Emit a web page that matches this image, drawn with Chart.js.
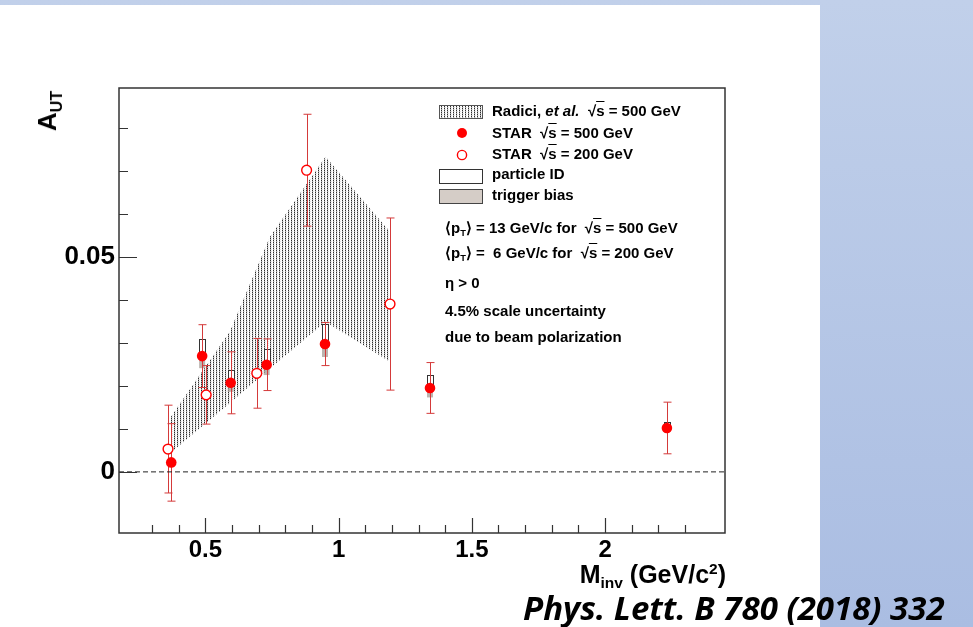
<!DOCTYPE html>
<html>
<head>
<meta charset="utf-8">
<script src="https://cdn.jsdelivr.net/npm/chart.js"></script>
<style>
  html, body { margin: 0; padding: 0; }
  body {
    width: 973px; height: 627px; position: relative; overflow: hidden;
    background: linear-gradient(#c1d0ea, #aabde2);
    font-family: "Liberation Sans", Arial, sans-serif;
  }
  #sheet { position: absolute; left: 0; top: 5px; width: 820px; height: 622px; background: #fff; }
  #c { position: absolute; left: 0; top: 0; }
  .t { position: absolute; white-space: nowrap; line-height: 1; font-weight: bold; color: #000; }
  .leg { font-size: 15px; }
  .t sub, .t sup { line-height: 0; font-size: 0.62em; }
  .t sub { vertical-align: -0.35em; }
  .t sup { vertical-align: 0.55em; }
  .ol { text-decoration: overline; }
  #ytitle { font-size: 26px; left: 47px; top: 111px; transform: translate(-50%, -50%) rotate(-90deg); }
  #xtitle { font-size: 25px; right: 247px; top: 562px; }
  #cite { font-family: "Open Sans", sans-serif; font-style: italic; font-size: 33px; left: 523px; top: 591px; }
</style>
</head>
<body>
<div id="sheet"></div>
<canvas id="c" width="973" height="627"></canvas>

<div class="t" id="ytitle">A<sub>UT</sub></div>
<div class="t" id="xtitle">M<sub>inv</sub> (GeV/c<sup>2</sup>)</div>
<div class="t" id="cite">Phys. Lett. B 780 (2018) 332</div>

<div class="t leg" style="left:492px; top:103px">Radici, <i>et al.</i> &nbsp;√<span class="ol">s</span> = 500 GeV</div>
<div class="t leg" style="left:492px; top:125px">STAR &nbsp;√<span class="ol">s</span> = 500 GeV</div>
<div class="t leg" style="left:492px; top:146px">STAR &nbsp;√<span class="ol">s</span> = 200 GeV</div>
<div class="t leg" style="left:492px; top:166px">particle ID</div>
<div class="t leg" style="left:492px; top:187px">trigger bias</div>
<div class="t leg" style="left:445px; top:220px">⟨p<sub>T</sub>⟩ = 13 GeV/c for &nbsp;√<span class="ol">s</span> = 500 GeV</div>
<div class="t leg" style="left:445px; top:245px">⟨p<sub>T</sub>⟩ = &nbsp;6 GeV/c for &nbsp;√<span class="ol">s</span> = 200 GeV</div>
<div class="t leg" style="left:445px; top:275px">η &gt; 0</div>
<div class="t leg" style="left:445px; top:303px">4.5% scale uncertainty</div>
<div class="t leg" style="left:445px; top:329px">due to beam polarization</div>

<script>
// STAR sqrt(s) = 500 GeV (filled)
const x500 = [0.372, 0.488, 0.595, 0.730, 0.949, 1.343, 2.232];
const y500 = [0.0022, 0.0269, 0.0207, 0.0249, 0.0297, 0.0195, 0.0102];
const e500 = [0.0090, 0.0073, 0.0072, 0.0060, 0.0050, 0.0059, 0.0060];
const pid500 = [0, 0.0039, 0.0029, 0.0036, 0.0046, 0.0030, 0.0014];   // particle ID syst (up)
const trig500 = [0, 0.0028, 0.0021, 0.0024, 0.0030, 0.0022, 0.0010];  // trigger bias syst (down)

// STAR sqrt(s) = 200 GeV (open)
const x200 = [0.360, 0.503, 0.693, 0.880, 1.193];
const y200 = [0.0053, 0.0179, 0.0229, 0.0701, 0.0390];
const e200 = [0.0102, 0.0068, 0.0081, 0.0130, 0.0200];

// Radici et al. band
const bandX = [0.367, 0.592, 0.742, 0.951, 1.193];
const bandHi = [0.0125, 0.0326, 0.0546, 0.0732, 0.0558];
const bandLo = [0.0043, 0.0160, 0.0240, 0.0349, 0.0256];

const xRange = [0.176, 2.45];
const yRange = [-0.0142, 0.0892];

const RED = '#ff0000';
const BAR_RED = 'rgb(212,58,58)';

const canvas = document.getElementById('c');
const ctx = canvas.getContext('2d');

// dotted fill like the ROOT stipple
const pc = document.createElement('canvas');
pc.width = 3; pc.height = 2;
const pctx = pc.getContext('2d');
pctx.fillStyle = '#2e2e2e';
pctx.fillRect(0, 0, 1, 1);
pctx.fillStyle = '#a8a8a8';
pctx.fillRect(0, 1, 1, 1);
pctx.fillStyle = '#e2e2e2';
pctx.fillRect(1, 1, 1, 1);
const stipple = ctx.createPattern(pc, 'repeat');

const pts = (xs, ys) => xs.map((v, i) => ({ x: v, y: ys[i] }));

function drawErrors(c, sx, sy, xs, ys, es) {
  c.strokeStyle = BAR_RED;
  c.lineWidth = 1;
  xs.forEach((v, i) => {
    const px = Math.round(sx.getPixelForValue(v)) + 0.5;
    const t = sy.getPixelForValue(ys[i] + es[i]);
    const b = sy.getPixelForValue(ys[i] - es[i]);
    c.beginPath();
    c.moveTo(px, t); c.lineTo(px, b);
    c.moveTo(px - 4, t); c.lineTo(px + 4, t);
    c.moveTo(px - 4, b); c.lineTo(px + 4, b);
    c.stroke();
  });
}

const rootStyle = {
  id: 'rootStyle',
  beforeDatasetDraw(chart, args) {
    if (args.index !== 2) return;
    const c = chart.ctx;
    const { x, y } = chart.scales;
    c.save();
    x500.forEach((v, i) => {
      const px = x.getPixelForValue(v);
      const py = y.getPixelForValue(y500[i]);
      if (trig500[i] > 0) {
        const b = y.getPixelForValue(y500[i] - trig500[i]);
        c.fillStyle = 'rgba(165,155,148,0.75)';
        c.fillRect(px - 3, py, 6, b - py);
      }
      if (pid500[i] > 0) {
        const t = y.getPixelForValue(y500[i] + pid500[i]);
        c.fillStyle = '#fff';
        c.fillRect(px - 3, t, 6, py - t);
        c.strokeStyle = '#333';
        c.lineWidth = 1;
        c.strokeRect(Math.round(px - 3) + 0.5, Math.round(t) + 0.5, 6, Math.round(py - t));
      }
    });
    drawErrors(c, x, y, x200, y200, e200);
    drawErrors(c, x, y, x500, y500, e500);
    c.restore();
  },
  afterDraw(chart) {
    const c = chart.ctx;
    const { x, y } = chart.scales;
    const a = chart.chartArea;
    c.save();
    c.strokeStyle = '#333';
    c.lineWidth = 1.5;
    c.strokeRect(a.left, a.top, a.right - a.left, a.bottom - a.top);
    c.lineWidth = 1.2;
    c.beginPath();
    x.ticks.forEach(t => {
      const v = t.value;
      if (Math.abs(v * 10 - Math.round(v * 10)) > 1e-6) return;
      const major = Math.abs(v * 2 - Math.round(v * 2)) < 1e-6;
      const px = Math.round(x.getPixelForValue(v)) + 0.5;
      c.moveTo(px, a.bottom);
      c.lineTo(px, a.bottom - (major ? 15 : 8));
    });
    y.ticks.forEach(t => {
      const v = t.value;
      if (Math.abs(v * 100 - Math.round(v * 100)) > 1e-6) return;
      const major = Math.abs(v * 20 - Math.round(v * 20)) < 1e-6;
      const py = Math.round(y.getPixelForValue(v)) + 0.5;
      c.moveTo(a.left, py);
      c.lineTo(a.left + (major ? 18 : 9), py);
    });
    c.stroke();

    // legend symbols
    c.fillStyle = stipple;
    c.fillRect(439, 105, 43, 13);
    c.strokeStyle = '#555';
    c.lineWidth = 1;
    c.strokeRect(439.5, 105.5, 43, 13);
    c.fillStyle = RED;
    c.beginPath(); c.arc(462, 133, 5, 0, Math.PI * 2); c.fill();
    c.strokeStyle = RED; c.lineWidth = 1.4;
    c.beginPath(); c.arc(462, 155, 4.6, 0, Math.PI * 2); c.stroke();
    c.fillStyle = '#fff'; c.strokeStyle = '#333'; c.lineWidth = 1;
    c.fillRect(439.5, 169.5, 43, 14); c.strokeRect(439.5, 169.5, 43, 14);
    c.fillStyle = '#d5cdc7'; c.strokeStyle = '#444';
    c.fillRect(439.5, 189.5, 43, 14); c.strokeRect(439.5, 189.5, 43, 14);
    c.restore();
  }
};

const isMajorX = v => Math.abs(v * 2 - Math.round(v * 2)) < 1e-6;

new Chart(ctx, {
  type: 'scatter',
  data: {
    datasets: [
      {
        label: 'STAR 500 GeV',
        data: pts(x500, y500),
        pointRadius: 5.3,
        pointBackgroundColor: RED,
        pointBorderColor: RED,
        pointBorderWidth: 0
      },
      {
        label: 'STAR 200 GeV',
        data: pts(x200, y200),
        pointRadius: 4.9,
        pointBackgroundColor: '#fff',
        pointBorderColor: RED,
        pointBorderWidth: 1.4
      },
      {
        label: 'zero',
        data: [{ x: xRange[0], y: 0 }, { x: xRange[1], y: 0 }],
        showLine: true,
        pointRadius: 0,
        borderColor: '#222',
        borderWidth: 1,
        borderDash: [5, 3]
      },
      {
        label: 'Radici et al.',
        data: pts(bandX, bandHi),
        showLine: true,
        pointRadius: 0,
        borderWidth: 0,
        borderColor: 'rgba(0,0,0,0)',
        backgroundColor: stipple,
        fill: '+1'
      },
      {
        label: 'band low',
        data: pts(bandX, bandLo),
        showLine: true,
        pointRadius: 0,
        borderWidth: 0,
        borderColor: 'rgba(0,0,0,0)'
      }
    ]
  },
  options: {
    responsive: false,
    animation: false,
    devicePixelRatio: 1,
    layout: { padding: { left: 0, top: 88, right: 248, bottom: 0 } },
    plugins: { legend: { display: false }, tooltip: { enabled: false } },
    scales: {
      x: {
        type: 'linear',
        min: xRange[0],
        max: xRange[1],
        afterFit(s) { s.height = 94; },
        grid: { display: false, drawTicks: false },
        border: { display: false },
        ticks: {
          stepSize: 0.1,
          autoSkip: false,
          maxRotation: 0,
          padding: 3,
          color: '#000',
          font: { family: 'Liberation Sans', weight: 'bold', size: 24 },
          callback(v) { return isMajorX(v) ? String(Math.round(v * 10) / 10) : ''; }
        }
      },
      y: {
        type: 'linear',
        min: yRange[0],
        max: yRange[1],
        afterFit(s) { s.width = 119; },
        grid: { display: false, drawTicks: false },
        border: { display: false },
        ticks: {
          stepSize: 0.01,
          autoSkip: false,
          padding: 4,
          color: '#000',
          font: { family: 'Liberation Sans', weight: 'bold', size: 26 },
          callback(v) {
            const r = Math.round(v * 100);
            if (Math.abs(v * 100 - r) > 1e-6) return '';
            if (r === 0) return '0';
            if (r === 5) return '0.05';
            return '';
          }
        }
      }
    }
  },
  plugins: [rootStyle]
});
</script>
</body>
</html>
